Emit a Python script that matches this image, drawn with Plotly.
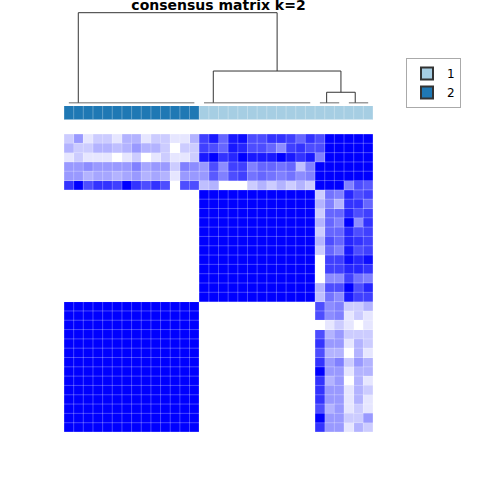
import plotly.graph_objects as go

# ---------------- data ----------------
n_samples = 32
sample_index = list(range(n_samples))

# class label of each (column-ordered) sample
sample_class = [2] * 14 + [1] * 18

class_labels = ["1", "2"]
class_colors = ["#a6cee3", "#1f78b4"]

# consensus matrix (rows top -> bottom, columns left -> right)
consensus = [
    [0.2, 0.4, 0.1, 0.2, 0.2, 0.1, 0.3, 0.3, 0.1, 0.2, 0.2, 0.1, 0.1, 0.3, 0.75, 0.9, 0.6, 0.9, 0.95, 0.7, 0.7, 0.8, 0.8, 0.75, 0.6, 0.8, 0.7, 1, 1, 1, 1, 1],
    [0.3, 0.2, 0.2, 0.3, 0.3, 0.25, 0.3, 0.4, 0.3, 0.3, 0.2, 0, 0.2, 0.2, 0.75, 0.7, 0.6, 0.9, 0.85, 0.7, 0.7, 0.6, 0.45, 0.75, 0.8, 0.7, 0.7, 1, 1, 1, 1, 1],
    [0.1, 0.2, 0.1, 0.1, 0.1, 0, 0.1, 0.2, 0, 0.1, 0.2, 0.1, 0.1, 0.2, 0.9, 1, 0.8, 0.85, 1, 0.9, 0.9, 0.9, 1, 0.9, 0.8, 0.9, 0.5, 1, 1, 1, 1, 1],
    [0.4, 0.4, 0.45, 0.4, 0.4, 0.4, 0.4, 0.5, 0.35, 0.4, 0.4, 0.2, 0.5, 0.45, 0.4, 0.7, 0.45, 0.75, 0.75, 0.5, 0.6, 0.6, 0.55, 0.6, 0.25, 0.5, 1, 1, 1, 1, 1, 1],
    [0.4, 0.4, 0.3, 0.35, 0.35, 0.3, 0.35, 0.4, 0.3, 0.35, 0.3, 0.1, 0.4, 0.4, 0.4, 0.65, 0.5, 0.7, 0.75, 0.55, 0.6, 0.55, 0.5, 0.55, 0.45, 0.5, 1, 1, 1, 1, 1, 1],
    [0.8, 1, 0.7, 0.8, 0.8, 0.75, 1, 0.8, 0.7, 0.8, 0.7, 0, 0.7, 0.7, 0.25, 0.3, 0, 0, 0, 0.2, 0.3, 0.2, 0.3, 0.2, 0.3, 0.2, 1, 1, 1, 0.5, 0.7, 0.65],
    [0] * 14 + [1] * 12 + [0.2, 0.55, 0.5, 0.85, 0.7, 0.75],
    [0] * 14 + [1] * 12 + [0.3, 0.5, 0.3, 0.8, 0.8, 0.6],
    [0] * 14 + [1] * 12 + [0.2, 0.6, 0.6, 0.85, 0.7, 0.75],
    [0] * 14 + [1] * 12 + [0.3, 0.6, 0.5, 1.0, 0.45, 0.8],
    [0] * 14 + [1] * 12 + [0.2, 0.6, 0.6, 0.85, 0.7, 0.75],
    [0] * 14 + [1] * 12 + [0.3, 0.7, 0.6, 0.85, 0.8, 0.75],
    [0] * 14 + [1] * 12 + [0.2, 0.6, 0.5, 0.9, 0.7, 0.75],
    [0] * 14 + [1] * 12 + [0.0, 0.75, 0.75, 0.95, 0.85, 0.95],
    [0] * 14 + [1] * 12 + [0.0, 0.75, 0.75, 0.85, 0.85, 0.8],
    [0] * 14 + [1] * 12 + [0.0, 0.45, 0.45, 0.75, 0.55, 0.5],
    [0] * 14 + [1] * 12 + [0.3, 0.7, 0.7, 1.0, 0.7, 0.85],
    [0] * 14 + [1] * 12 + [0.25, 0.55, 0.45, 0.9, 0.75, 0.75],
    [1] * 14 + [0] * 12 + [0.7, 0.45, 0.5, 0.2, 0.2, 0.3],
    [1] * 14 + [0] * 12 + [0.7, 0.45, 0.5, 0.1, 0.2, 0.1],
    [1] * 14 + [0] * 12 + [0.0, 0.1, 0.2, 0.1, 0.0, 0.1],
    [1] * 14 + [0] * 12 + [0.7, 0.3, 0.4, 0.2, 0.2, 0.2],
    [1] * 14 + [0] * 12 + [0.8, 0.4, 0.4, 0.1, 0.3, 0.2],
    [1] * 14 + [0] * 12 + [0.7, 0.3, 0.3, 0.0, 0.3, 0.1],
    [1] * 14 + [0] * 12 + [0.8, 0.4, 0.5, 0.2, 0.4, 0.3],
    [1] * 14 + [0] * 12 + [1.0, 0.4, 0.4, 0.1, 0.3, 0.3],
    [1] * 14 + [0] * 12 + [0.8, 0.3, 0.4, 0.0, 0.3, 0.1],
    [1] * 14 + [0] * 12 + [0.8, 0.4, 0.4, 0.1, 0.3, 0.2],
    [1] * 14 + [0] * 12 + [0.8, 0.4, 0.4, 0.1, 0.3, 0.1],
    [1] * 14 + [0] * 12 + [0.7, 0.3, 0.4, 0.1, 0.2, 0.1],
    [1] * 14 + [0] * 12 + [1.0, 0.4, 0.4, 0.2, 0.2, 0.4],
    [1] * 14 + [0] * 12 + [0.8, 0.4, 0.4, 0.1, 0.3, 0.2],
]

# dendrogram: leaf groups merged at ~zero height, their node positions,
# and the higher merges (left node, right node, height)
dend_groups = [(0, 13), (14, 25), (26, 28), (29, 31)]
dend_group_x = [0.98, 14.96, 26.7, 29.66]
dend_merges = [  # (left child, right child, height); children: "g<i>" group or "m<i>" merge
    ("g2", "g3", 0.116),
    ("g1", "m0", 0.352),
    ("g0", "m1", 1.0),
]

# ---------------- figure ----------------
W = H = 480
def px_x(p):
    return p / W
def px_y(p):
    return 1 - p / H

fig = go.Figure()

fig.add_trace(go.Heatmap(
    z=consensus, x=sample_index, y=sample_index,
    colorscale=[[0, "#ffffff"], [1, "#0000ff"]], zmin=0, zmax=1,
    showscale=False, hoverinfo="skip", xaxis="x", yaxis="y",
))

fig.add_trace(go.Heatmap(
    z=[sample_class], x=sample_index, y=[0],
    colorscale=[[0, class_colors[0]], [1, class_colors[1]]], zmin=1, zmax=2,
    showscale=False, hoverinfo="skip", xaxis="x", yaxis="y2",
))

# dendrogram
node_pos = {}
for i, (a, b) in enumerate(dend_groups):
    fig.add_trace(go.Scatter(
        x=[a, b], y=[0, 0], mode="lines",
        line=dict(color="rgba(90,90,90,0.6)", width=1.5),
        showlegend=False, hoverinfo="skip", xaxis="x2", yaxis="y3",
    ))
    node_pos["g%d" % i] = (dend_group_x[i], 0.0)
for i, (l, r, h) in enumerate(dend_merges):
    xl, hl = node_pos[l]
    xr, hr = node_pos[r]
    fig.add_trace(go.Scatter(
        x=[xl, xl, xr, xr], y=[hl, h, h, hr], mode="lines",
        line=dict(color="#333333", width=1),
        showlegend=False, hoverinfo="skip", xaxis="x2", yaxis="y3",
    ))
    node_pos["m%d" % i] = ((xl + xr) / 2, h)

# legend entries
for lab, col in zip(class_labels, class_colors):
    fig.add_trace(go.Scatter(
        x=[None], y=[None], mode="markers", name=lab,
        marker=dict(symbol="square", size=8, color=col, line=dict(color="#333333", width=1)),
        xaxis="x", yaxis="y",
    ))

# thin cell borders
shapes = []
for i in range(n_samples + 1):
    shapes.append(dict(type="line", xref="x", yref="y", x0=i - 0.5, x1=i - 0.5,
                       y0=-0.5, y1=n_samples - 0.5, line=dict(color="rgba(255,255,255,0.28)", width=1), layer="above"))
    shapes.append(dict(type="line", xref="x", yref="y", y0=i - 0.5, y1=i - 0.5,
                       x0=-0.5, x1=n_samples - 0.5, line=dict(color="rgba(255,255,255,0.28)", width=1), layer="above"))
    shapes.append(dict(type="line", xref="x", yref="y2", x0=i - 0.5, x1=i - 0.5,
                       y0=-0.5, y1=0.5, line=dict(color="rgba(255,255,255,0.3)", width=1), layer="above"))

hidden = dict(showgrid=False, zeroline=False, showticklabels=False, ticks="", showline=False)
xdom = [px_x(64), px_x(373)]
fig.update_layout(
    width=W, height=H,
    margin=dict(l=0, r=0, t=0, b=0),
    paper_bgcolor="white", plot_bgcolor="white",
    font=dict(family="DejaVu Sans", color="black"),
    title=dict(text="<b>consensus matrix k=2</b>", x=(64 + 373) / 2 / W, xanchor="center",
               y=px_y(5), yanchor="middle", xref="paper", yref="container",
               font=dict(size=14, family="DejaVu Sans", color="black")),
    xaxis=dict(domain=xdom, range=[-0.5, n_samples - 0.5], anchor="y", **hidden),
    yaxis=dict(domain=[px_y(432), px_y(134)], range=[n_samples - 0.5, -0.5], anchor="x", **hidden),
    yaxis2=dict(domain=[px_y(119.5), px_y(106)], range=[-0.5, 0.5], anchor="x", **hidden),
    xaxis2=dict(domain=xdom, range=[-0.5, n_samples - 0.5], anchor="y3", **hidden),
    yaxis3=dict(domain=[px_y(104.7), px_y(10.7)], range=[-2 / 90, 1 + 2 / 90], anchor="x2", **hidden),
    legend=dict(x=px_x(406), y=px_y(58), xanchor="left", yanchor="top",
                bordercolor="#aaaaaa", borderwidth=1, bgcolor="white",
                font=dict(size=12, family="DejaVu Sans"), itemsizing="constant"),
    shapes=shapes,
    showlegend=True,
)

fig.write_html("out.html", config={"displayModeBar": False},
               post_script="document.body.style.margin='0';document.body.style.overflow='hidden';")
